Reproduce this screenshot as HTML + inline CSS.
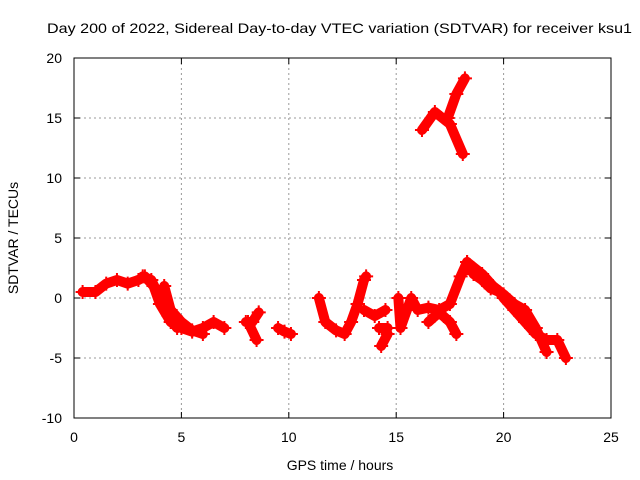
<!DOCTYPE html>
<html><head><meta charset="utf-8"><style>
body{margin:0;background:#fff}
svg{display:block;font-family:"Liberation Sans",sans-serif}
</style></head><body>
<svg id="chart" width="640" height="480" viewBox="0 0 640 480">
<text x="47" y="33" font-size="14" textLength="585" lengthAdjust="spacingAndGlyphs">Day 200 of 2022, Sidereal Day-to-day VTEC variation (SDTVAR) for receiver ksu1</text>
<g id="grid"></g>
<g id="series"></g>
<rect x="74" y="58" width="537" height="360" fill="none" stroke="#000" stroke-width="1"/>
<g id="ticks"></g>
<text x="340" y="470" font-size="14" text-anchor="middle">GPS time / hours</text>
<text transform="translate(18,238) rotate(-90)" font-size="14" text-anchor="middle">SDTVAR / TECUs</text>
</svg>
<script>
const xTicks=[0,5,10,15,20,25];
const yTicks=[-10,-5,0,5,10,15,20];
const trackA=[[0.4,0.5],[1,0.5],[1.5,1.2],[2,1.5],[2.5,1.2],[3,1.5],[3.3,1.8],[3.7,1],[4,-0.5],[4.5,-2],[5,-2.5],[5.5,-2.8],[6,-2.5],[6.5,-2],[7,-2.5]];
const trackB=[[3.2,1.8],[3.6,1.5],[4,0],[4.4,-1.5],[4.8,-2.5]];
const trackC=[[4.2,1],[4.5,-1],[5,-2],[5.5,-2.7],[6,-3]];
const trackD=[[8,-2],[8.3,-2],[8.6,-1.2]];
const trackD2=[[8.1,-2],[8.5,-3.5]];
const trackE=[[9.5,-2.5],[9.8,-2.8],[10.1,-3]];
const trackF=[[11.4,0],[11.7,-2],[12.2,-2.7],[12.6,-3],[12.9,-2],[13.2,-0.5],[13.5,1.5],[13.6,1.8]];
const trackG=[[13.5,-1],[14,-1.5],[14.5,-1]];
const trackG2=[[14.2,-2.5],[14.6,-2.5]];
const trackG3=[[14.3,-4],[14.6,-3]];
const trackH=[[15.1,0],[15.2,-2.5],[15.5,-1],[15.7,0],[16,-1],[16.5,-0.8],[17,-1],[17.5,-0.5],[18,1.8],[18.3,3],[18.6,2],[19,1.5],[19.4,0.8],[19.8,0.5],[20,0],[20.5,-1],[21,-2],[21.5,-3],[22,-3.5],[22.5,-3.5],[22.9,-5]];
const trackI=[[16.5,-2],[17,-1.2],[17.5,-2],[17.8,-3]];
const trackJ=[[18.3,3],[19,2],[19.5,1],[20,0.3],[20.5,-0.5],[21,-1],[21.5,-2.5],[22,-4.5]];
const trackK=[[16.2,14],[16.8,15.5],[17.5,14.5],[18.1,12]];
const trackL=[[17.4,15],[17.8,17],[18.2,18.3]];
const tracks=[trackA,trackB,trackC,trackD,trackD2,trackE,trackF,trackG,trackG2,trackG3,trackH,trackI,trackJ,trackK,trackL];
const X=t=>74+t*537/25;
const Y=v=>58+(20-v)*12;
const NS='http://www.w3.org/2000/svg';
const grid=document.getElementById('grid'),ticks=document.getElementById('ticks'),ser=document.getElementById('series');
function mk(tag,attrs,parent){const e=document.createElementNS(NS,tag);for(const k in attrs)e.setAttribute(k,attrs[k]);parent.appendChild(e);return e;}
xTicks.forEach(t=>{
 if(t>0&&t<25){const g=mk('line',{x1:X(t),x2:X(t),y1:58,y2:418,stroke:'#999','stroke-dasharray':'2,3'},grid);
 
 }
 const tk=mk('path',{d:`M${X(t)},418v-6M${X(t)},58v6`,stroke:'#000'},ticks);
 
 
 const l=mk('text',{x:X(t),y:442,'font-size':14,'text-anchor':'middle'},ticks);l.textContent=t;
 
 
});
yTicks.forEach(v=>{
 if(v>-10&&v<20){const g=mk('line',{x1:74,x2:611,y1:Y(v),y2:Y(v),stroke:'#999','stroke-dasharray':'2,3'},grid);
 
 }
 const tk=mk('path',{d:`M74,${Y(v)}h6M611,${Y(v)}h-6`,stroke:'#000'},ticks);
 
 
 const l=mk('text',{x:62,y:Y(v)+5,'font-size':14,'text-anchor':'end'},ticks);l.textContent=v;
 
 
});
tracks.forEach(tr=>{
 const p=mk('polyline',{points:tr.map(d=>X(d[0])+','+Y(d[1])).join(' '),fill:'none',stroke:'#f00','stroke-width':10,'stroke-linejoin':'round','stroke-linecap':'round'},ser);
 
 
 tr.forEach(d=>{const m=mk('path',{d:`M${X(d[0])-7},${Y(d[1])}h14M${X(d[0])},${Y(d[1])-7}v14`,stroke:'#f00','stroke-width':2},ser);
 
 });
});
</script>
</body></html>
